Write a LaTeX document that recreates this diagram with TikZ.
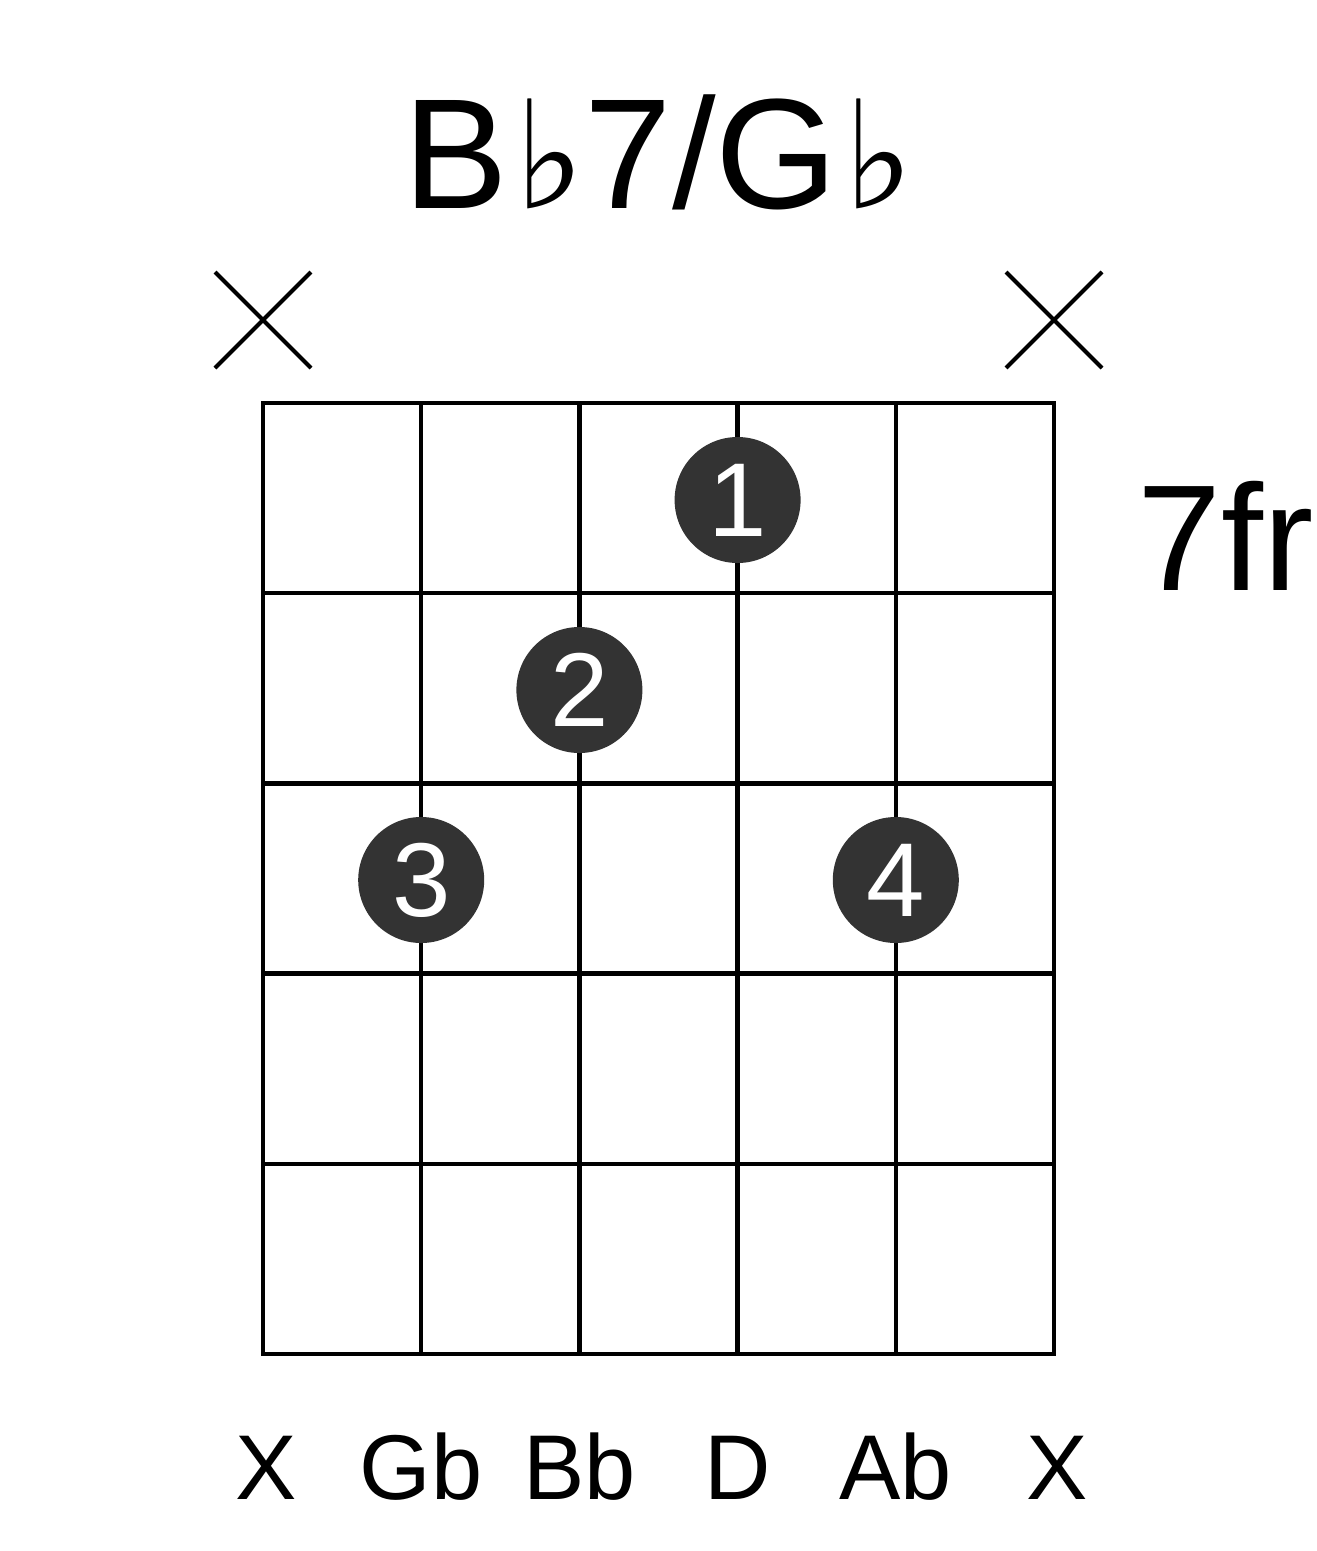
\documentclass[tikz,border=0pt]{standalone}
\usepackage{fontspec}
\usetikzlibrary{calc}
\setmainfont{Liberation Sans}
\newfontfamily\symfont{DejaVu Serif}
\definecolor{dotgray}{HTML}{333333}
\newcommand{\flatsym}{{\symfont\fontsize{150}{150}\selectfont\kern6pt ♭}}
\begin{document}
\begin{tikzpicture}[x=1pt,y=-1pt,
  gridline/.style={line width=4.5pt,line cap=rect},
  xmark/.style={line width=4pt},
  fingerdot/.style={circle,fill=dotgray,minimum size=126pt,inner sep=0pt,text=white,font=\fontsize{105}{105}\selectfont},
  strlabel/.style={anchor=base,inner sep=0pt,font=\fontsize{92}{92}\selectfont}]
\useasboundingbox (0,0) rectangle (1317,1551);
\fill[white] (0,0) rectangle (1317,1551);
% grid
\foreach \i/\x in {0/263,1/421.2,2/579.4,3/737.6,4/895.8,5/1054}{
  \draw[gridline] (\x,403) -- (\x,1354);
}
\foreach \y in {403,593.2,783.4,973.6,1163.8,1354}{
  \draw[gridline] (263,\y) -- (1054,\y);
}
% title
\node[anchor=base,inner sep=0pt,font=\fontsize{157}{157}\selectfont] (title) at (659,208)
  {B\flatsym 7/G\flatsym};
% fret label
\node[anchor=base west,inner sep=0pt,font=\fontsize{151}{151}\selectfont] (fr) at (1137,590) {7fr};
% muted markers
\coordinate (xa) at (263,320);
\coordinate (xb) at (1054,320);
\draw[xmark] ($(xa)+(-48,-48)$) -- ($(xa)+(48,48)$) ($(xa)+(-48,48)$) -- ($(xa)+(48,-48)$);
\draw[xmark] ($(xb)+(-48,-48)$) -- ($(xb)+(48,48)$) ($(xb)+(-48,48)$) -- ($(xb)+(48,-48)$);
% finger dots
\node[fingerdot] (d1) at (737.6,500) {1};
\node[fingerdot] (d2) at (579.4,690) {2};
\node[fingerdot] (d3) at (421.2,880) {3};
\node[fingerdot] (d4) at (895.8,880) {4};
% string labels
\node[strlabel] (l1) at (266,1499) {X};
\node[strlabel] (l2) at (421.2,1499) {Gb};
\node[strlabel] (l3) at (579.4,1499) {Bb};
\node[strlabel] (l4) at (737.6,1499) {D};
\node[strlabel] (l5) at (895.8,1499) {Ab};
\node[strlabel] (l6) at (1057,1499) {X};
\end{tikzpicture}
\end{document}
